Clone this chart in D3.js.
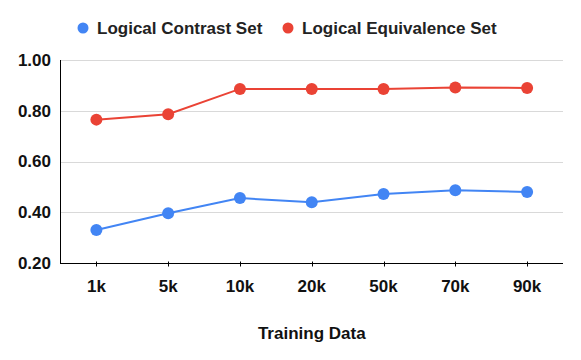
<!DOCTYPE html>
<html>
<head>
<meta charset="utf-8">
<script src="https://cdn.jsdelivr.net/npm/d3@7"></script>
<style>
  body { margin: 0; background: #fff; }
  svg { display: block; font-family: Arial, "Liberation Sans", sans-serif; }
</style>
</head>
<body>
<svg width="581" height="360"></svg>
<script>
// training set sizes on the x axis
const categories = ['1k', '5k', '10k', '20k', '50k', '70k', '90k'];
const contrastValues = [0.330, 0.396, 0.456, 0.439, 0.472, 0.487, 0.480];
const equivalenceValues = [0.765, 0.786, 0.886, 0.886, 0.886, 0.892, 0.890];
const yTicks = [0.2, 0.4, 0.6, 0.8, 1.0];
const seriesNames = ['Logical Contrast Set', 'Logical Equivalence Set'];

const colors = ['#4285F4', '#EA4335'];

function drawChart(svgElement) {
  const svg = d3.select(svgElement);
  const margin = { left: 60.5, right: 18, top: 60, bottom: 97 };
  const width = 581;
  const height = 360;

  const x = d3
    .scaleBand()
    .domain(categories)
    .range([margin.left, width - margin.right]);

  const y = d3
    .scaleLinear()
    .domain([0.2, 1.0])
    .range([height - margin.bottom, margin.top]);

  // gridlines
  svg
    .append('g')
    .selectAll('line')
    .data(yTicks.slice(1))
    .enter()
    .append('line')
    .attr('x1', margin.left)
    .attr('x2', width - margin.right)
    .attr('y1', d => Math.round(y(d)) + 0.5)
    .attr('y2', d => Math.round(y(d)) + 0.5)
    .attr('stroke', '#d9d9d9')
    .attr('stroke-width', 1);

  // y axis labels
  svg
    .append('g')
    .selectAll('text')
    .data(yTicks)
    .enter()
    .append('text')
    .attr('x', 51)
    .attr('y', d => y(d))
    .attr('dy', '0.35em')
    .attr('text-anchor', 'end')
    .attr('font-size', 17)
    .attr('font-weight', 'bold')
    .attr('fill', '#111')
    .text(d => d.toFixed(2));

  // y axis line
  svg
    .append('line')
    .attr('x1', margin.left)
    .attr('x2', margin.left)
    .attr('y1', y(1.0))
    .attr('y2', y(0.2))
    .attr('stroke', '#000')
    .attr('stroke-width', 1);

  // x axis
  const xAxis = svg
    .append('g')
    .attr('transform', `translate(0,${Math.round(y(0.2)) + 0.5})`);
  xAxis
    .append('line')
    .attr('x1', margin.left - 0.5)
    .attr('x2', width - margin.right)
    .attr('stroke', '#000');
  xAxis
    .selectAll('.tick')
    .data(categories)
    .enter()
    .append('line')
    .attr('x1', d => Math.round(x(d) + x.bandwidth() / 2) + 0.5)
    .attr('x2', d => Math.round(x(d) + x.bandwidth() / 2) + 0.5)
    .attr('y1', -2)
    .attr('y2', 3)
    .attr('stroke', '#000');
  xAxis
    .selectAll('text')
    .data(categories)
    .enter()
    .append('text')
    .attr('x', d => x(d) + x.bandwidth() / 2)
    .attr('y', 23)
    .attr('dy', '0.35em')
    .attr('text-anchor', 'middle')
    .attr('font-size', 17)
    .attr('font-weight', 'bold')
    .attr('fill', '#111')
    .text(d => d);

  svg
    .append('text')
    .attr('x', (margin.left + width - margin.right) / 2)
    .attr('y', 333)
    .attr('dy', '0.35em')
    .attr('text-anchor', 'middle')
    .attr('font-size', 17)
    .attr('font-weight', 'bold')
    .attr('fill', '#111')
    .text('Training Data');

  // series
  const series = [contrastValues, equivalenceValues];
  const line = d3
    .line()
    .x((d, i) => x(categories[i]) + x.bandwidth() / 2)
    .y(d => y(d));

  series.forEach((values, s) => {
    const g = svg.append('g');
    g.append('path')
      .datum(values)
      .attr('d', line)
      .attr('fill', 'none')
      .attr('stroke', colors[s])
      .attr('stroke-width', 2);
    g.selectAll('circle')
      .data(values)
      .enter()
      .append('circle')
      .attr('cx', (d, i) => x(categories[i]) + x.bandwidth() / 2)
      .attr('cy', d => y(d))
      .attr('r', 6)
      .attr('fill', colors[s]);
  });

  // legend
  const legendX = [83, 288];
  const legend = svg
    .append('g')
    .selectAll('g')
    .data(seriesNames)
    .enter()
    .append('g')
    .attr('transform', (d, i) => `translate(${legendX[i]},28)`);
  legend
    .append('circle')
    .attr('r', 5.5)
    .attr('fill', (d, i) => colors[i]);
  legend
    .append('text')
    .attr('x', 14)
    .attr('dy', '0.35em')
    .attr('font-size', 17)
    .attr('font-weight', 'bold')
    .attr('fill', '#222')
    .text(d => d);
}

drawChart(document.querySelector('svg'));
</script>
</body>
</html>
